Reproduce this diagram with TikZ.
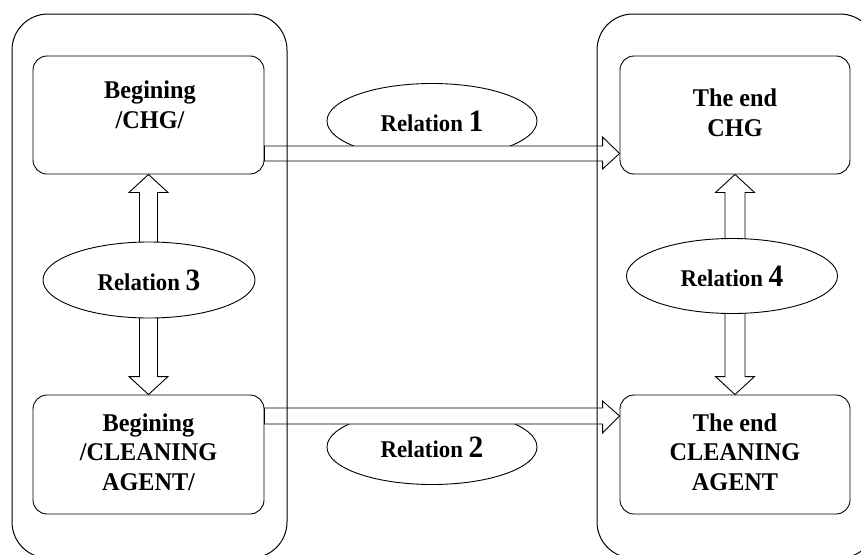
\documentclass[tikz,border=0pt]{standalone}
\usepackage{fontspec}
\setmainfont{Liberation Serif}[FakeStretch=0.95]
\usetikzlibrary{shapes.geometric,calc}
\newcommand{\dg}[1]{{\fontsize{31}{31}\selectfont #1}}
\tikzset{
  stagebox/.style={draw, rounded corners=14pt, line width=0.9pt, inner sep=0pt},
  groupbox/.style={draw, rounded corners=36pt, line width=1pt},
  stagetext/.style={align=center, inner sep=0pt, font=\fontsize{25.5}{29.5}\selectfont\bfseries},
  relation/.style={draw, fill=white, ellipse, inner sep=0pt, line width=0.9pt,
     minimum width=210pt, minimum height=75pt, font=\fontsize{24}{28}\selectfont\bfseries},
  fatarrow/.style={draw, fill=white, line width=0.9pt, line join=miter}
}
\begin{document}
\begin{tikzpicture}[x=1pt,y=-1pt]
\useasboundingbox (0,0) rectangle (861,554);
\clip (0,0) rectangle (861,554);
\fill[white] (0,0) rectangle (861,554);

% stage boxes
\node[stagebox, minimum width=231pt, minimum height=118pt] (b1) at (148.5,115) {};
\node[stagebox, minimum width=231pt, minimum height=119pt] (b2) at (148.5,454.5) {};
\node[stagebox, minimum width=230pt, minimum height=118pt] (b3) at (735,115) {};
\node[stagebox, minimum width=230pt, minimum height=119pt] (b4) at (735,454.5) {};

\node[stagetext] (t1) at ([xshift=1.5pt,yshift=10pt]b1.center) {Begining\\/CHG/};
\node[stagetext] (t2) at ([yshift=2.5pt]b2.center) {Begining\\/CLEANING\\AGENT/};
\node[stagetext] (t3) at ([yshift=2pt]b3.center) {The end\\CHG};
\node[stagetext] (t4) at ([yshift=2.5pt]b4.center) {The end\\CLEANING\\AGENT};

% vertical double arrows
\draw[fatarrow] let \p1=(b1.south), \p2=(b2.north) in
  (\x1,\y1) -- (\x1+19.5pt,\y1-18pt) -- (\x1+9pt,\y1-18pt) -- (\x1+9pt,\y2+18pt)
  -- (\x1+19.5pt,\y2+18pt) -- (\x1,\y2) -- (\x1-19.5pt,\y2+18pt) -- (\x1-9pt,\y2+18pt)
  -- (\x1-9pt,\y1-18pt) -- (\x1-19.5pt,\y1-18pt) -- cycle;
\draw[fatarrow] let \p1=(b3.south), \p2=(b4.north) in
  (\x1,\y1) -- (\x1+19.5pt,\y1-18pt) -- (\x1+10pt,\y1-18pt) -- (\x1+10pt,\y2+18pt)
  -- (\x1+19.5pt,\y2+18pt) -- (\x1,\y2) -- (\x1-19.5pt,\y2+18pt) -- (\x1-10pt,\y2+18pt)
  -- (\x1-10pt,\y1-18pt) -- (\x1-19.5pt,\y1-18pt) -- cycle;

% relations
\node[relation] (r1) at (432,121) {Relation \dg{1}};
\node[relation] (r2) at (432,447) {Relation \dg{2}};
\node[relation, minimum width=212pt, minimum height=76pt] (r3) at (149,280) {Relation \dg{3}};
\node[relation, minimum width=211pt, minimum height=75pt] (r4) at (732,276) {Relation \dg{4}};

% horizontal arrows
\draw[fatarrow] let \p1=(b1.east), \p2=(b3.west) in
  (\x1,\y1-31pt) -- (\x2-17pt,\y1-31pt) -- (\x2-17pt,\y1-22pt) -- (\x2,\y1-38.5pt)
  -- (\x2-17pt,\y1-54pt) -- (\x2-17pt,\y1-46pt) -- (\x1,\y1-46pt) -- cycle;
\draw[fatarrow] let \p1=(b2.east), \p2=(b4.west) in
  (\x1,\y1+46.5pt) -- (\x2-17pt,\y1+46.5pt) -- (\x2-17pt,\y1+53.5pt) -- (\x2,\y1+38.5pt)
  -- (\x2-17pt,\y1+21.5pt) -- (\x2-17pt,\y1+30.5pt) -- (\x1,\y1+30.5pt) -- cycle;

% group frames
\draw[groupbox] (12,14) rectangle (287,558);
\draw[groupbox] (597,14) rectangle (876,558);
\end{tikzpicture}
\end{document}
